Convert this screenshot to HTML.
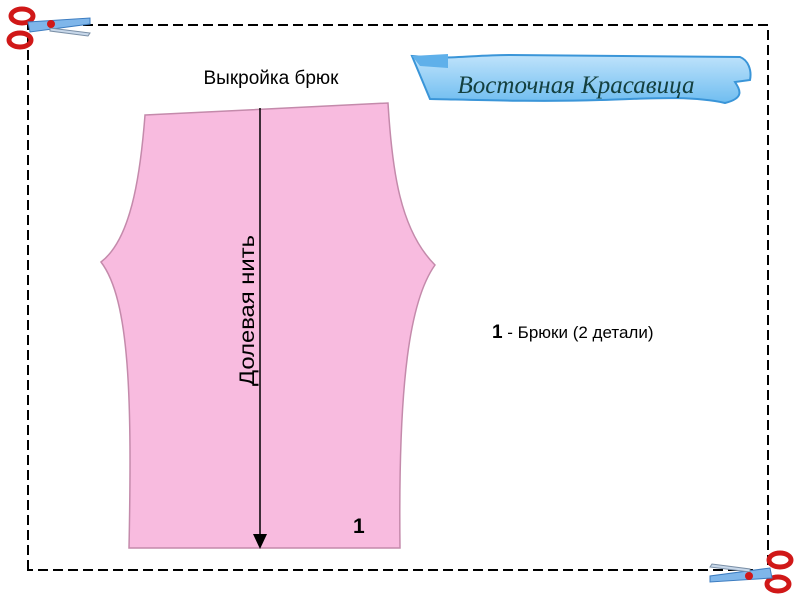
<!DOCTYPE html>
<html><head><meta charset="utf-8"><style>
html,body{margin:0;padding:0;background:#fff;width:800px;height:600px;overflow:hidden}
</style></head><body>
<svg width="800" height="600" viewBox="0 0 800 600" xmlns="http://www.w3.org/2000/svg" font-family="Liberation Sans, sans-serif">
<defs>
<linearGradient id="rb" x1="0" y1="0" x2="0" y2="1">
<stop offset="0" stop-color="#bfe3fb"/><stop offset="1" stop-color="#6fbdf0"/></linearGradient>
</defs>
<path d="M28 570 V25 H768 V570 Z" fill="none" stroke="#000" stroke-width="2" stroke-dasharray="10,5"/>
<path d="M145 115 L388 103 C392 170 400 230 435 265 C410 300 398 380 400 548 L129 548 C132 400 130 300 101 262 C130 240 140 180 145 115 Z" fill="#f8bbdf" stroke="#c48aab" stroke-width="1.5"/>
<line x1="260" y1="108" x2="260" y2="536" stroke="#000" stroke-width="1.5"/>
<polygon points="253,534 267,534 260,549" fill="#000"/>
<text x="271" y="84" font-size="19" text-anchor="middle">Выкройка брюк</text>
<text transform="translate(254,386) rotate(-90)" font-size="21" textLength="151" lengthAdjust="spacingAndGlyphs">Долевая нить</text>
<text x="492" y="338" font-size="17"><tspan font-weight="bold" font-size="19">1</tspan> - Брюки (2 детали)</text>
<text x="353" y="533" font-size="21" font-weight="bold">1</text>
<path d="M412 56 C450 60 470 55 510 55 L740 57 C748 60 752 70 750 80 L735 82 C740 90 745 98 725 103 C690 95 640 99 600 100 C540 102 480 100 430 99 Z" fill="url(#rb)" stroke="#3a95d8" stroke-width="2"/>
<path d="M412 56 L448 54 L448 68 L420 66 Z" fill="#5fb0ea"/>
<text x="576" y="93" font-size="25" font-family="Liberation Serif, serif" font-style="italic" fill="#14403f" text-anchor="middle" textLength="237" lengthAdjust="spacingAndGlyphs">Восточная Красавица</text>
<g>
<ellipse cx="22" cy="16" rx="11" ry="7" fill="none" stroke="#d01818" stroke-width="5"/>
<ellipse cx="20" cy="40" rx="11" ry="7" fill="none" stroke="#d01818" stroke-width="5"/>
<path d="M28 22 L90 18 L90 24 L30 32 Z" fill="#7fb6ea" stroke="#3c7cc0"/>
<path d="M50 28 L90 33 L88 36 L50 31 Z" fill="#c8d8ea" stroke="#7a8fa6"/>
<circle cx="51" cy="24" r="4" fill="#d01818"/>
</g>
<g transform="translate(800,600) scale(-1,-1)">
<ellipse cx="22" cy="16" rx="11" ry="7" fill="none" stroke="#d01818" stroke-width="5"/>
<ellipse cx="20" cy="40" rx="11" ry="7" fill="none" stroke="#d01818" stroke-width="5"/>
<path d="M28 22 L90 18 L90 24 L30 32 Z" fill="#7fb6ea" stroke="#3c7cc0"/>
<path d="M50 28 L90 33 L88 36 L50 31 Z" fill="#c8d8ea" stroke="#7a8fa6"/>
<circle cx="51" cy="24" r="4" fill="#d01818"/>
</g>
</svg>
</body></html>
